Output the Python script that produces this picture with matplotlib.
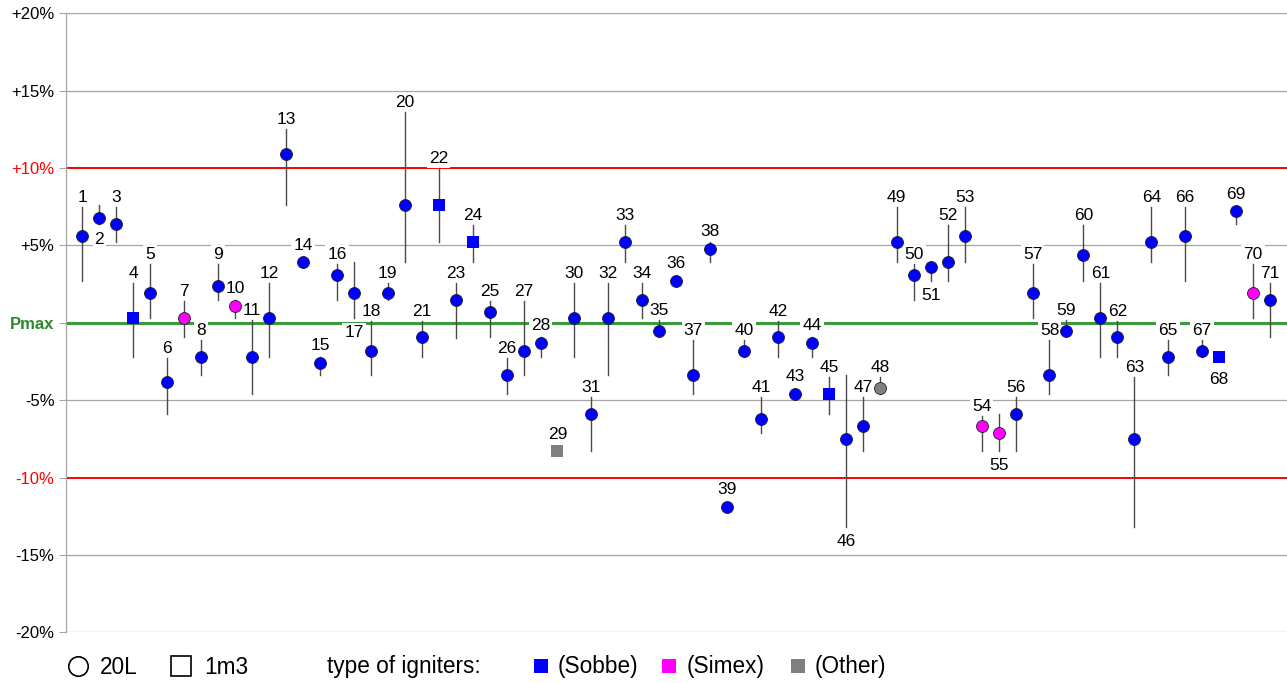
import matplotlib
matplotlib.use('Agg')
import matplotlib.pyplot as plt

plt.rcParams['font.family'] = ['Liberation Sans', 'DejaVu Sans']

ids = list(range(1, 72))
values = [5.6, 6.8, 6.4, 0.3, 1.9, -3.8, 0.3, -2.2, 2.4, 1.1,
          -2.2, 0.3, 10.9, 3.9, -2.6, 3.1, 1.9, -1.8, 1.9, 7.6,
          -0.9, 7.6, 1.5, 5.2, 0.7, -3.4, -1.8, -1.3, -8.3, 0.3,
          -5.9, 0.3, 5.2, 1.5, -0.5, 2.7, -3.4, 4.8, -11.9, -1.8,
          -6.2, -0.9, -4.6, -1.3, -4.6, -7.5, -6.7, -4.2, 5.2, 3.1,
          3.6, 3.9, 5.6, -6.7, -7.1, -5.9, 1.9, -3.4, -0.5, 4.4,
          0.3, -0.9, -7.5, 5.2, -2.2, 5.6, -1.8, -2.2, 7.2, 1.9, 1.5]
upper = [7.5, 7.6, 7.5, 2.6, 3.8, -2.3, 1.4, -1.1, 3.8, 1.5,
         0.2, 2.6, 12.5, 4.2, -2.2, 3.8, 3.9, 0.1, 2.6, 13.6,
         0.1, 10.0, 2.6, 6.3, 1.4, -2.3, 1.4, -0.9, -8.3, 2.6,
         -4.8, 2.6, 6.3, 2.6, 0.2, 2.7, -1.1, 5.2, -11.9, -1.1,
         -4.8, 0.1, -4.6, -0.9, -3.5, -3.4, -4.8, -3.5, 7.5, 3.8,
         3.9, 6.3, 7.5, -6.0, -5.9, -4.8, 3.8, -1.1, 0.2, 6.3,
         2.6, 0.1, -3.5, 7.5, -1.1, 7.5, -1.1, -2.2, 7.5, 3.8, 2.6]
lower = [2.7, 6.4, 5.2, -2.2, 0.3, -5.9, -0.9, -3.4, 1.5, 0.3,
         -4.6, -2.2, 7.6, 3.6, -3.4, 1.5, 0.3, -3.4, 1.5, 3.9,
         -2.2, 5.2, -1.0, 3.9, -0.9, -4.6, -3.4, -2.2, -8.3, -2.2,
         -8.3, -3.4, 3.9, 0.3, -0.8, 2.7, -4.6, 3.9, -11.9, -2.2,
         -7.1, -2.2, -4.6, -2.2, -5.9, -13.2, -8.3, -4.6, 3.9, 1.5,
         2.7, 2.7, 3.9, -8.3, -8.3, -8.3, 0.3, -4.6, -0.8, 2.7,
         -2.2, -2.2, -13.2, 3.9, -3.4, 2.7, -2.2, -2.2, 6.4, 0.3, -0.9]
square_ids = [4, 22, 24, 29, 45, 68]          # 1m3 apparatus
simex_ids = [7, 10, 54, 55, 70]               # Simex igniters
other_ids = [29, 48]                          # Other igniters
below_label_ids = [2, 17, 46, 51, 55, 68]

yticks = [20, 15, 10, 5, 0, -5, -10, -15, -20]
ytick_labels = ['+20%', '+15%', '+10%', '+5%', 'Pmax', '-5%', '-10%', '-15%', '-20%']

BLUE = '#0000ff'
MAGENTA = '#ff00ff'
GRAY = '#808080'
RED = '#ff0000'
GREEN = '#3c9a3c'

fig = plt.figure(figsize=(12.87, 6.83), dpi=100)
ax = fig.add_axes([65.5 / 1287, 1 - 632.3 / 683, 1 - 65.5 / 1287, (632.3 - 13.3) / 683])
ax.set_xlim(0, 72)
ax.set_ylim(-20, 20)

for t in yticks:
    if t in (10, -10):
        ax.axhline(t, color=RED, lw=1.4, zorder=1)
    elif t == 0:
        ax.axhline(t, color=GREEN, lw=2.2, zorder=1)
    else:
        ax.axhline(t, color='#a6a6a6', lw=0.9, zorder=1)

for s in ['top', 'right', 'bottom']:
    ax.spines[s].set_visible(False)
ax.spines['left'].set_color('#a6a6a6')
ax.spines['left'].set_linewidth(0.9)
ax.set_xticks([])
ax.set_yticks(yticks)
ax.set_yticklabels(ytick_labels, fontsize=12)
ax.tick_params(axis='y', length=5, color='#a6a6a6', pad=3)
for lbl, t in zip(ax.get_yticklabels(), yticks):
    if t in (10, -10):
        lbl.set_color(RED)
    elif t == 0:
        lbl.set_color('#2a8a2a')
        lbl.set_fontweight('bold')

for i, v, hi, lo in zip(ids, values, upper, lower):
    if hi > lo:
        ax.plot([i, i], [lo, hi], color='#4a4a4a', lw=1.0, zorder=4)
    if i in simex_ids:
        c = MAGENTA
    elif i in other_ids:
        c = GRAY
    else:
        c = BLUE
    if i in square_ids:
        ax.plot(i, v, marker='s', ms=8.4, color=c, mec=c, mew=0, zorder=5, ls='none')
    else:
        ax.plot(i, v, marker='o', ms=8.6, color=c, mec='#202020', mew=0.6, zorder=5, ls='none')
    bbox = dict(boxstyle='square,pad=0.12', fc='white', ec='none')
    if i in below_label_ids:
        anchor = min(lo, v - 0.5)
        ax.annotate(str(i), (i, anchor), xytext=(0, -10.5), textcoords='offset points',
                    ha='center', va='center', fontsize=12.5, bbox=bbox, zorder=3)
    else:
        anchor = max(hi, v + 0.5)
        ax.annotate(str(i), (i, anchor), xytext=(0, 6.8), textcoords='offset points',
                    ha='center', va='center', fontsize=12.5, bbox=bbox, zorder=3)

# legend row
lg = fig.add_axes([0, 0, 1, 1], facecolor='none')
lg.set_xlim(0, 1287)
lg.set_ylim(683, 0)
lg.axis('off')
ly = 666
lg.plot(78, ly, marker='o', ms=14, mfc='white', mec='black', mew=1.2, ls='none')
lg.text(100, ly + 1, '20L', fontsize=16.3, va='center', ha='left')
lg.plot(181, ly, marker='s', ms=14, mfc='white', mec='black', mew=1.2, ls='none')
lg.text(204, ly + 1, '1m3', fontsize=16.3, va='center', ha='left')
lg.text(327, ly + 1, 'type of igniters:', fontsize=16.3, va='center', ha='left')
for xm, xt, c, name in [(541, 558, BLUE, '(Sobbe)'), (669, 687, MAGENTA, '(Simex)'),
                        (798, 815, GRAY, '(Other)')]:
    lg.plot(xm, ly, marker='s', ms=10, color=c, mew=0, ls='none')
    lg.text(xt, ly + 1, name, fontsize=16.3, va='center', ha='left')

fig.savefig('out.png', dpi=100)
